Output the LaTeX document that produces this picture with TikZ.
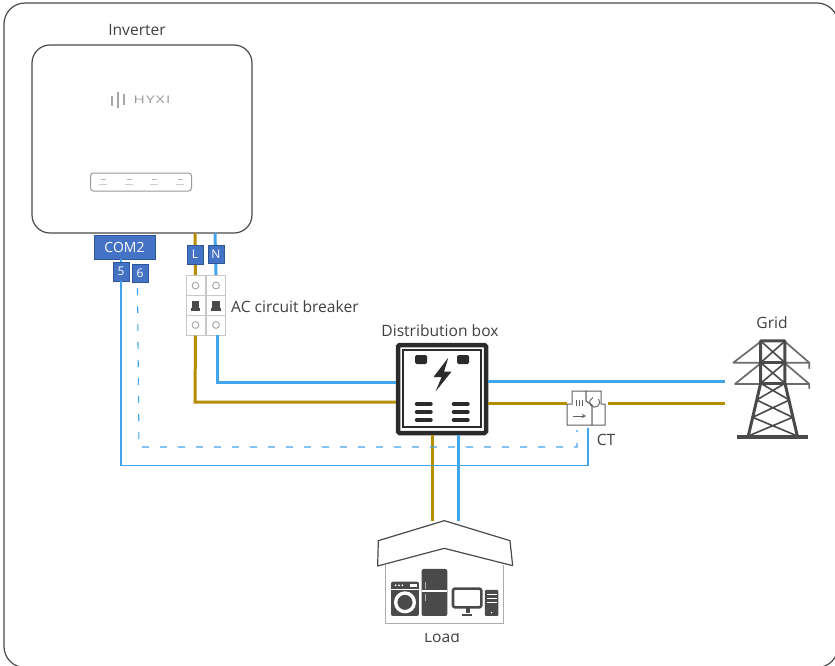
\documentclass[tikz,border=0pt]{standalone}
\usepackage{fontspec}
\setmainfont{Open Sans}
\definecolor{wblue}{HTML}{41A5EE}
\definecolor{wbrown}{HTML}{B78E00}
\definecolor{tagfill}{HTML}{4472C4}
\definecolor{tagline}{HTML}{2F5597}
\definecolor{txt}{HTML}{404040}
\definecolor{dk}{HTML}{2B2B2B}
\definecolor{dev}{HTML}{4A4A4A}
\definecolor{lg}{HTML}{C8C8C8}
\tikzset{
  label text/.style={font=\fontsize{15.6}{17}\selectfont,text=txt,inner sep=0pt},
  tag/.style={draw=tagline,fill=tagfill,line width=0.8pt,text=white,inner sep=0pt,font=\fontsize{12}{14}\selectfont},
  bluewire/.style={draw=wblue,line width=3pt},
  brownwire/.style={draw=wbrown,line width=3pt},
  sigwire/.style={draw=wblue,line width=1.1pt},
  sigdash/.style={draw=wblue,line width=1.1pt,dash pattern=on 7pt off 11pt},
  cell/.style={draw=lg,line width=1pt,fill=white,minimum width=19pt,inner sep=0pt},
}
\begin{document}
\begin{tikzpicture}[x=1pt,y=-1pt]
\useasboundingbox (0,0) rectangle (835,666);
\fill[white] (0,0) rectangle (835,666);
% frame (runs past the right and lower edges of the page)
\begin{scope}
\clip (0,0) rectangle (835,666);
\draw[dev,line width=1.2pt,rounded corners=21pt] (4,3) -- (838,3) -- (838,667.5) -- (4,667.5) -- cycle;
\end{scope}

% labels cut by the pictures
\node[label text] (invlabel) at (137,30.5) {Inverter};
\fill[white] (100,35.3) rectangle (180,44);
\node[label text] (loadlabel) at (442,636.5) {Load};
\fill[white] (410,622) rectangle (475,633);

% inverter
\node[draw=dev,line width=1.2pt,fill=white,rounded corners=18pt,minimum width=220pt,minimum height=188pt,inner sep=0pt] (inverter) at (142,139) {};
\node[draw=gray!80,line width=1pt,fill=white,rounded corners=3pt,minimum width=101pt,minimum height=18pt,inner sep=0pt] (panel) at (141,182) {};
\foreach \px in {103,129,154,180}{
  \draw[gray!55,line width=0.7pt] (\px-2.5,179) -- (\px+2.5,179);
  \draw[gray!40,line width=0.5pt] (\px-4,184) -- (\px+4,184);
}
\foreach \lx/\la/\lb in {112/96/106,118/92/108,124/94/105}{
  \draw[gray!70,line width=1.6pt] (\lx,\la) -- (\lx,\lb);
}
\node[inner sep=0pt,text=gray!80,font=\fontsize{10.5}{12}\selectfont\addfontfeature{FakeStretch=1.45,LetterSpace=12}] (logo) at (152,99.5) {HYXI};

% breaker
\foreach \nm/\cx in {a/195.5,b/216}{
  \node[cell,minimum height=20pt] (\nm top) at (\cx,285.5) {};
  \node[cell,minimum height=20pt] (\nm mid) at (\cx,305.5) {};
  \node[cell,minimum height=20pt] (\nm bot) at (\cx,325) {};
  \draw[gray!70,line width=0.9pt] (\nm top.center) circle (3.4pt);
  \draw[gray!70,line width=0.9pt] (\nm bot.center) circle (3.4pt);
  \fill[dev] (\cx-3.8,300.5) rectangle (\cx+3.8,308);
  \fill[dev] (\cx-4.8,308) rectangle (\cx+4.8,311);
}
\node[label text,anchor=west] (brklabel) at (231,306.5) {AC circuit breaker};

% tags
\node[tag,minimum width=61pt,minimum height=24pt,font=\fontsize{14}{16}\selectfont] (com) at (124.5,247) {COM2};
\node[tag,minimum width=16pt,minimum height=19pt] (t5) at (121,271.5) {5};
\node[tag,minimum width=16pt,minimum height=18pt] (t6) at (140,273) {6};

% wires of the breaker
\coordinate (lin) at (195,233);
\coordinate (nin) at (215,233);
\draw[brownwire] (lin) -- (atop.north);
\draw[bluewire] (nin) -- (btop.north);
\node[tag,minimum width=16pt,minimum height=19pt] (tl) at (195,254.5) {L};
\node[tag,minimum width=16pt,minimum height=18pt] (tn) at (216,254) {N};

% distribution box
\node[draw=dk,line width=4.5pt,fill=white,rounded corners=1.5pt,minimum width=88pt,minimum height=88pt,inner sep=0pt] (dist) at (442,389) {};
\draw[dk,line width=1.3pt] (403,350) rectangle (481,427);
\fill[dk,rounded corners=1.5pt] (415,355) rectangle (427,364);
\fill[dk,rounded corners=1.5pt] (457,355) rectangle (469,364);
\fill[dk,rounded corners=0.5pt] (448.3,357.7) -- (433.5,377) -- (441.7,377) -- (435.5,391.5) -- (451.5,371.7) -- (444,371.7) -- cycle;
\foreach \by in {404,412,420}{
  \draw[dk,line width=3.4pt,line cap=round] (416.5,\by) -- (431,\by);
  \draw[dk,line width=3.4pt,line cap=round] (453.5,\by) -- (468,\by);
}
\node[label text] (distlabel) at (440,331) {Distribution box};

% CT
\node[inner sep=0pt,minimum width=38pt,minimum height=35pt] (ct) at (586,408) {};
\draw[gray!75!black,line width=1pt,fill=white] (572,391) -- (586,391) -- (586,401) -- (592,405) -- (592,425) -- (567,425) -- (567,404) -- (572,404) -- cycle;
\draw[gray!75!black,line width=1pt,fill=white] (586,391) -- (601,391) -- (601,404) -- (605,404) -- (605,425) -- (592,425) -- (592,405) -- (586,401) -- cycle;
\draw[gray!75!black,line width=0.9pt] (598.5,399) arc (-40:250:5);
\foreach \tx in {576,579,582}{\draw[gray!75!black,line width=0.9pt] (\tx,400) -- (\tx,406);}
\draw[gray!75!black,line width=0.9pt,->,>=stealth] (573,416) -- (586,416);
\node[label text] (ctlabel) at (606,440) {CT};

% power wires
\coordinate (brownL) at (195,402);
\coordinate (blueL) at (217,382);
\draw[brownwire] (abot.south) -- (brownL) -- (brownL -| dist.west);
\draw[bluewire] (217,335) -- (blueL) -- (blueL -| dist.west);
\coordinate (gridblue) at (725,381.5);
\coordinate (gridbrown) at (725,403.5);
\draw[bluewire] (dist.east |- gridblue) -- (gridblue);
\draw[brownwire] (dist.east |- gridbrown) -- (567,403.5);
\draw[brownwire] (608,403.5) -- (gridbrown);
\coordinate (loadbrown) at (432.5,521);
\coordinate (loadblue) at (458,521);
\draw[brownwire] (dist.south -| loadbrown) -- (loadbrown);
\draw[bluewire] (dist.south -| loadblue) -- (loadblue);

% signal wires
\coordinate (sigA) at (121,465.5);
\coordinate (sigB) at (588,465.5);
\coordinate (sigC) at (588,428);
\draw[sigwire] (t5.south) -- (sigA) -- (sigB) -- (sigC);
\draw[sigwire] (121,259) -- (t5.north);
\coordinate (dashA) at (139,447);
\coordinate (dashB) at (577,447);
\coordinate (dashC) at (577,430);
\draw[sigdash] (137.5,288) -- (dashA) -- (dashB) -- (dashC);

% grid tower
\node[inner sep=0pt,minimum width=78pt,minimum height=100pt] (tower) at (771,389) {};
\begin{scope}[shift={(550,310)},x=0.3333pt,y=-0.3333pt,line cap=round,line join=round]
  \draw[gray!85!black,line width=1.7pt] (550,158) -- (778,158) (555,222) -- (778,222)
     (550,158) -- (632,95) (778,158) -- (705,95) (555,222) -- (632,160) (778,222) -- (705,160)
     (778,158) -- (778,175) (778,222) -- (778,235);
  \draw[dev,line width=3pt] (632,93) -- (705,93) -- (705,220) -- (742,378) (632,93) -- (632,220) -- (595,378);
  \draw[dev,line width=2.8pt] (632,158) -- (705,158) (632,220) -- (705,220);
  \draw[dev,line width=1.6pt] (632,93) -- (705,158) (705,93) -- (632,158) (632,158) -- (705,220) (705,158) -- (632,220)
     (632,220) -- (718,270) (705,220) -- (620,270) (620,270) -- (728,322) (718,270) -- (608,322)
     (608,322) -- (742,378) (728,322) -- (595,378);
  \fill[dev] (560,375) rectangle (775,387);
\end{scope}
\node[label text] (gridlabel) at (772,323) {Grid};

% house
\node[inner sep=0pt,minimum width=135pt,minimum height=104pt] (house) at (444,572) {};
\begin{scope}[shift={(365,510)},x=0.3333pt,y=-0.3333pt,line join=round]
  \draw[gray!65,line width=1.4pt] (62,165) -- (62,340) -- (415,340) -- (415,165);
  \draw[dev,line width=1.2pt,fill=white] (238,32) -- (435,92) -- (443,167) -- (238,115) -- (38,168) -- (40,92) -- cycle;
  % washer
  \fill[dev,rounded corners=2pt] (78,215) rectangle (162,318);
  \fill[white] (78,236) rectangle (162,239);
  \draw[white,line width=3.4pt] (120,277) circle (28);
  \foreach \dx in {92,102,112}{\fill[white] (\dx,226) circle (3);}
  \fill[white] (136,222) rectangle (156,230);
  % fridge
  \fill[dev,rounded corners=2pt] (170,177) rectangle (247,318);
  \fill[white] (170,241) rectangle (247,245);
  \fill[gray!60] (179,215) rectangle (182,236);
  \fill[gray!60] (179,253) rectangle (182,274);
  % monitor
  \draw[dev,line width=2.6pt,rounded corners=2pt] (264,236) rectangle (349,292);
  \fill[dev] (302,295) rectangle (314,310);
  \fill[dev] (291,312) rectangle (322,319);
  % tower pc
  \fill[dev,rounded corners=1pt] (360,240) rectangle (400,318);
  \fill[white] (365,253) rectangle (395,256);
  \fill[white] (365,264) rectangle (395,267);
  \fill[white] (365,275) rectangle (395,278);
  \fill[white] (380,308) circle (2.5);
\end{scope}
\end{tikzpicture}
\end{document}
